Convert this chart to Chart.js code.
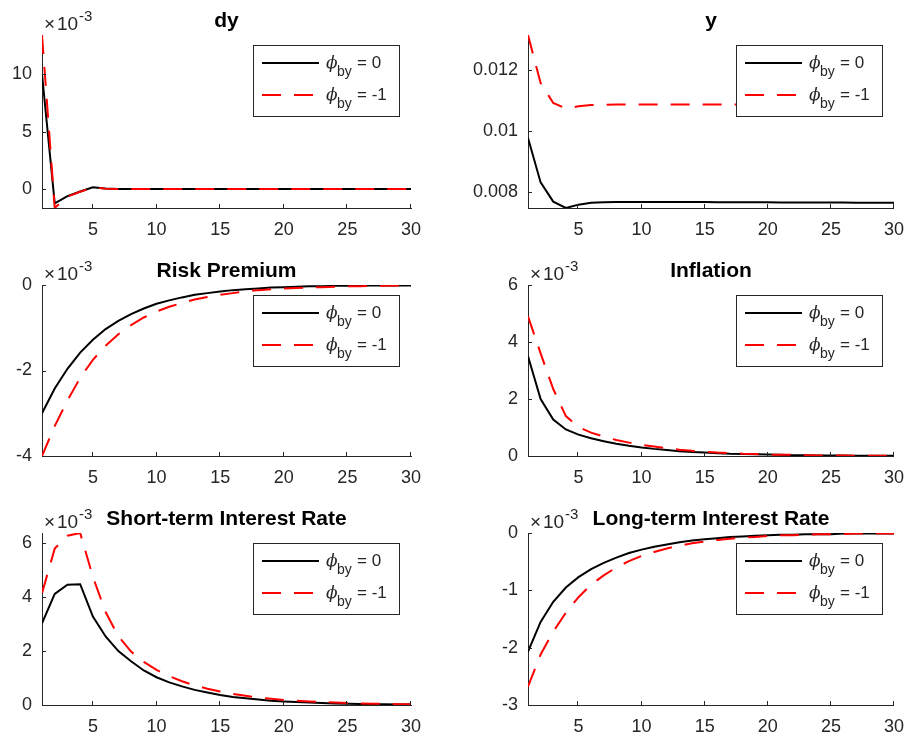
<!DOCTYPE html>
<html>
<head>
<meta charset="utf-8">
<script src="https://cdn.jsdelivr.net/npm/chart.js@4/dist/chart.umd.min.js"></script>
<style>
  body { margin: 0; background: #fff; }
  #wrap { position: relative; width: 915px; height: 740px; }
  canvas { position: absolute; }
</style>
</head>
<body>
<div id="wrap">
  <canvas id="c1" width="457" height="245" style="left:0;top:0"></canvas>
  <canvas id="c2" width="458" height="245" style="left:457px;top:0"></canvas>
  <canvas id="c3" width="457" height="248" style="left:0;top:245px"></canvas>
  <canvas id="c4" width="458" height="248" style="left:457px;top:245px"></canvas>
  <canvas id="c5" width="457" height="247" style="left:0;top:493px"></canvas>
  <canvas id="c6" width="458" height="247" style="left:457px;top:493px"></canvas>
</div>
<script>
// horizons and x ticks
var periods = [1, 2, 3, 4, 5, 6, 7, 8, 9, 10, 11, 12, 13, 14, 15, 16, 17, 18, 19, 20, 21, 22, 23, 24, 25, 26, 27, 28, 29, 30];
var xTicks = [5, 10, 15, 20, 25, 30];
var legendLabels = ['0', '-1'];

// dy (x 10^-3)
var dyBase = [10.0, -1.25, -0.62, -0.22, 0.15, 0.04, 0.01, 0, 0, 0, 0, 0, 0, 0, 0, 0, 0, 0, 0, 0, 0, 0, 0, 0, 0, 0, 0, 0, 0, 0];
var dyAlt = [13.4, -1.65, -0.66, -0.24, 0.13, 0.03, 0.01, 0, 0, 0, 0, 0, 0, 0, 0, 0, 0, 0, 0, 0, 0, 0, 0, 0, 0, 0, 0, 0, 0, 0];
var dyTicks = [0, 5, 10];

// y (levels)
var yBase = [0.00977, 0.00831, 0.00768, 0.00747, 0.00758, 0.00764, 0.00766, 0.00767, 0.00767, 0.00767, 0.00767, 0.00767, 0.00767, 0.00767, 0.00767, 0.00766, 0.00766, 0.00766, 0.00766, 0.00766, 0.00765, 0.00765, 0.00765, 0.00765, 0.00765, 0.00765, 0.00764, 0.00764, 0.00764, 0.00764];
var yAlt = [0.01315, 0.01157, 0.01092, 0.01074, 0.01081, 0.01085, 0.01086, 0.01087, 0.01087, 0.01087, 0.01087, 0.01087, 0.01087, 0.01087, 0.01087, 0.01087, 0.01087, 0.01087, 0.01086, 0.01086, 0.01086, 0.01086, 0.01086, 0.01086, 0.01086, 0.01085, 0.01085, 0.01085, 0.01085, 0.01085];
var yTicks = [0.008, 0.01, 0.012];

// risk premium (x 10^-3)
var riskBase = [-3.0, -2.42, -1.96, -1.58, -1.28, -1.03, -0.84, -0.68, -0.55, -0.44, -0.36, -0.29, -0.23, -0.19, -0.15, -0.12, -0.10, -0.08, -0.06, -0.05, -0.04, -0.03, -0.03, -0.02, -0.02, -0.01, -0.01, -0.01, -0.01, -0.01];
var riskAlt = [-4.0, -3.3, -2.7, -2.17, -1.75, -1.42, -1.15, -0.94, -0.76, -0.62, -0.51, -0.42, -0.34, -0.28, -0.23, -0.19, -0.15, -0.12, -0.10, -0.08, -0.07, -0.06, -0.05, -0.04, -0.03, -0.03, -0.02, -0.02, -0.01, -0.01];
var riskTicks = [-4, -2, 0];

// inflation (x 10^-3)
var inflBase = [3.5, 2.0, 1.28, 0.93, 0.75, 0.62, 0.52, 0.43, 0.36, 0.30, 0.25, 0.21, 0.17, 0.14, 0.12, 0.10, 0.08, 0.07, 0.06, 0.05, 0.04, 0.03, 0.03, 0.02, 0.02, 0.02, 0.01, 0.01, 0.01, 0.01];
var inflAlt = [4.9, 3.6, 2.35, 1.4, 1.02, 0.82, 0.68, 0.56, 0.47, 0.39, 0.33, 0.27, 0.22, 0.18, 0.15, 0.12, 0.10, 0.08, 0.07, 0.05, 0.04, 0.04, 0.03, 0.02, 0.02, 0.02, 0.01, 0.01, 0.01, 0.01];
var inflTicks = [0, 2, 4, 6];

// short-term interest rate (x 10^-3)
var shortBase = [3.03, 4.12, 4.46, 4.48, 3.28, 2.54, 2.0, 1.62, 1.28, 1.03, 0.84, 0.69, 0.56, 0.46, 0.37, 0.30, 0.25, 0.20, 0.16, 0.13, 0.11, 0.09, 0.07, 0.06, 0.05, 0.04, 0.03, 0.03, 0.02, 0.02];
var shortAlt = [4.15, 5.8, 6.28, 6.38, 4.75, 3.45, 2.55, 1.98, 1.6, 1.3, 1.07, 0.88, 0.73, 0.60, 0.50, 0.41, 0.34, 0.28, 0.23, 0.19, 0.16, 0.13, 0.11, 0.09, 0.07, 0.06, 0.05, 0.04, 0.03, 0.03];
var shortTicks = [0, 2, 4, 6];

// long-term interest rate (x 10^-3)
var longBase = [-2.07, -1.55, -1.2, -0.95, -0.77, -0.63, -0.52, -0.43, -0.35, -0.29, -0.24, -0.2, -0.16, -0.13, -0.11, -0.09, -0.07, -0.06, -0.05, -0.04, -0.03, -0.03, -0.02, -0.02, -0.02, -0.01, -0.01, -0.01, -0.01, -0.01];
var longAlt = [-2.68, -2.12, -1.72, -1.39, -1.12, -0.9, -0.74, -0.6, -0.49, -0.4, -0.33, -0.27, -0.22, -0.18, -0.15, -0.12, -0.1, -0.08, -0.07, -0.05, -0.04, -0.04, -0.03, -0.02, -0.02, -0.02, -0.01, -0.01, -0.01, -0.01];
var longTicks = [-3, -2, -1, 0];

var axisColor = '#262626';
var sans = '"Liberation Sans", Arial, Helvetica, sans-serif';
var redDash = [19, 13];

// draws matlab style ticks, title, x10^-3 note and boxed legend
var matlabPlugin = {
  id: 'matlab',
  afterDraw: function (chart, args, opts) {
    var ctx = chart.ctx;
    var area = chart.chartArea;
    var xs = chart.scales.x;
    var ys = chart.scales.y;
    ctx.save();

    // inward ticks
    ctx.strokeStyle = axisColor;
    ctx.lineWidth = 1;
    ctx.beginPath();
    xs.ticks.forEach(function (t) {
      var px = Math.round(xs.getPixelForValue(t.value)) - 0.5;
      ctx.moveTo(px, area.bottom);
      ctx.lineTo(px, area.bottom - 4);
    });
    ys.ticks.forEach(function (t) {
      var py = Math.round(ys.getPixelForValue(t.value)) + 0.5;
      ctx.moveTo(area.left, py);
      ctx.lineTo(area.left + 4, py);
    });
    ctx.stroke();

    // title
    ctx.fillStyle = '#000';
    ctx.font = 'bold 21px ' + sans;
    ctx.textAlign = 'center';
    ctx.textBaseline = 'alphabetic';
    ctx.fillText(opts.title, (area.left + area.right) / 2, area.top - 8);

    // exponent
    if (opts.exponent) {
      ctx.fillStyle = axisColor;
      ctx.textAlign = 'left';
      ctx.font = '19px ' + sans;
      ctx.fillText('\u00d7', area.left + 2, area.top - 5);
      ctx.fillText('10', area.left + 15, area.top - 5);
      ctx.font = '15px ' + sans;
      ctx.fillText('-3', area.left + 37, area.top - 14);
    }

    // legend
    var bw = 146, bh = 71;
    var bx = Math.round(area.right - 12 - bw);
    var by = Math.round(area.top + 10);
    ctx.fillStyle = '#fff';
    ctx.fillRect(bx, by, bw, bh);
    ctx.strokeStyle = axisColor;
    ctx.lineWidth = 1;
    ctx.strokeRect(bx + 0.5, by + 0.5, bw, bh);

    var rows = [by + 18, by + 50];
    var colors = ['#000000', '#ff0000'];
    rows.forEach(function (ry, i) {
      ctx.beginPath();
      ctx.strokeStyle = colors[i];
      ctx.lineWidth = 2;
      ctx.setLineDash(i === 1 ? redDash : []);
      ctx.moveTo(bx + 9, ry);
      ctx.lineTo(bx + 66, ry);
      ctx.stroke();
      ctx.setLineDash([]);

      var base = ry + 5;
      ctx.fillStyle = axisColor;
      ctx.textAlign = 'left';
      ctx.font = 'italic 17px "DejaVu Serif", "Liberation Serif", serif';
      ctx.fillText('\u03d5', bx + 73, base);
      ctx.font = '14px ' + sans;
      ctx.fillText('by', bx + 84, base + 8);
      ctx.font = '17px ' + sans;
      ctx.fillText('= ' + legendLabels[i], bx + 104, base);
    });

    ctx.restore();
  }
};

function makePanel(canvasId, box, plot, title, exponent, baseVals, altVals, ticks, yMin, yMax) {
  var basePoints = periods.map(function (p, i) { return { x: p, y: baseVals[i] }; });
  var altPoints = periods.map(function (p, i) { return { x: p, y: altVals[i] }; });

  var config = {
    type: 'line',
    data: {
      datasets: [
        {
          label: 'phi_by = 0',
          data: basePoints,
          borderColor: '#000000',
          borderWidth: 2,
          pointRadius: 0,
          tension: 0,
          fill: false,
          order: 1,
        },
        {
          label: 'phi_by = -1',
          data: altPoints,
          borderColor: '#ff0000',
          borderWidth: 2,
          borderDash: redDash,
          pointRadius: 0,
          tension: 0,
          fill: false,
          order: 0,
        },
      ],
    },
    options: {
      responsive: false,
      animation: false,
      devicePixelRatio: 1,
      events: [],
      layout: {
        padding: {
          left: 0,
          bottom: 0,
          top: plot.top - box.top,
          right: box.left + box.w - plot.right,
        },
      },
      plugins: {
        legend: { display: false },
        tooltip: { enabled: false },
        matlab: { title: title, exponent: exponent },
      },
      scales: {
        x: {
          type: 'linear',
          min: 1,
          max: 30,
          grid: { display: false, drawTicks: false },
          border: { display: true, color: axisColor, width: 1 },
          afterBuildTicks: function (scale) {
            scale.ticks = xTicks.map(function (v) { return { value: v }; });
          },
          afterFit: function (scale) {
            scale.height = box.top + box.h - plot.bottom;
          },
          ticks: {
            color: axisColor,
            font: { family: sans, size: 18 },
            padding: 11,
            maxRotation: 0,
            autoSkip: false,
            callback: function (v) { return String(v); },
          },
        },
        y: {
          type: 'linear',
          min: yMin,
          max: yMax,
          grid: { display: false, drawTicks: false },
          border: { display: true, color: axisColor, width: 1 },
          afterBuildTicks: function (scale) {
            scale.ticks = ticks.map(function (v) { return { value: v }; });
          },
          afterFit: function (scale) {
            scale.width = plot.left - box.left;
          },
          ticks: {
            color: axisColor,
            font: { family: sans, size: 18 },
            padding: 10,
            autoSkip: false,
            callback: function (v) { return String(v); },
          },
        },
      },
    },
    plugins: [matlabPlugin],
  };

  return new Chart(document.getElementById(canvasId), config);
}

var dyMin = Math.min.apply(null, dyBase.concat(dyAlt));
var dyMax = Math.max.apply(null, dyBase.concat(dyAlt));
var yMinV = Math.min.apply(null, yBase.concat(yAlt));
var yMaxV = Math.max.apply(null, yBase.concat(yAlt));
var shortMax = Math.max.apply(null, shortAlt);

makePanel('c1', { left: 0, top: 0, w: 457, h: 245 }, { left: 42, top: 35, right: 411, bottom: 208 },
  'dy', true, dyBase, dyAlt, dyTicks, dyMin, dyMax);
makePanel('c2', { left: 457, top: 0, w: 458, h: 245 }, { left: 528, top: 35, right: 898, bottom: 208 },
  'y', false, yBase, yAlt, yTicks, yMinV, yMaxV);
makePanel('c3', { left: 0, top: 245, w: 457, h: 248 }, { left: 42, top: 285, right: 411, bottom: 456 },
  'Risk Premium', true, riskBase, riskAlt, riskTicks, -4, 0);
makePanel('c4', { left: 457, top: 245, w: 458, h: 248 }, { left: 528, top: 285, right: 898, bottom: 456 },
  'Inflation', true, inflBase, inflAlt, inflTicks, 0, 6);
makePanel('c5', { left: 0, top: 493, w: 457, h: 247 }, { left: 42, top: 533, right: 411, bottom: 705 },
  'Short-term Interest Rate', true, shortBase, shortAlt, shortTicks, 0, shortMax);
makePanel('c6', { left: 457, top: 493, w: 458, h: 247 }, { left: 528, top: 533, right: 898, bottom: 705 },
  'Long-term Interest Rate', true, longBase, longAlt, longTicks, -3, 0);
</script>
</body>
</html>
